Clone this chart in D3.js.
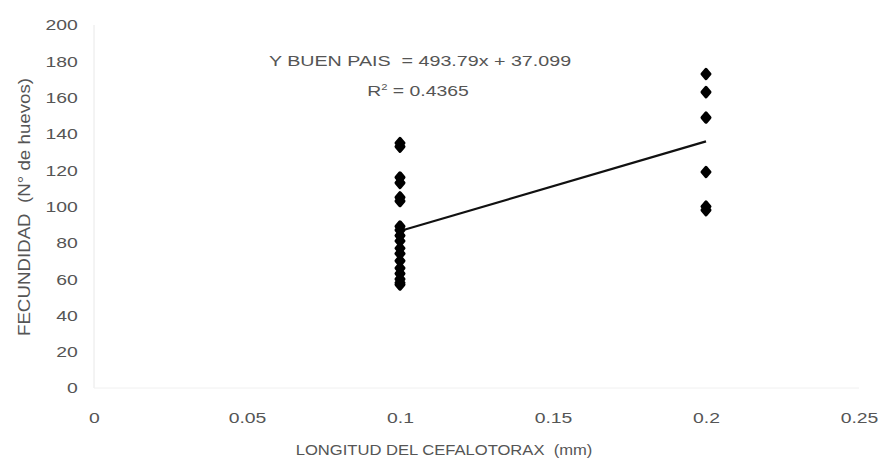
<!DOCTYPE html>
<html>
<head>
<meta charset="utf-8">
<script src="https://cdn.jsdelivr.net/npm/d3@7"></script>
<style>
  html, body { margin: 0; padding: 0; background: #fff; }
  svg { display: block; }
  text { font-family: "Liberation Sans", Arial, sans-serif; fill: #555; white-space: pre; }
</style>
</head>
<body>
<svg id="chart" width="882" height="462"></svg>
<script>
// Cephalothorax length groups and fecundity (egg counts)
const lengthsA = [0.1];
const eggsA = [135, 133, 116, 113, 105, 103, 89, 87, 84, 81, 77, 74, 70, 66, 63, 60, 58, 57];
const lengthsB = [0.2];
const eggsB = [173, 163, 149, 119, 100, 98];

// Linear fit reported for the Buen País population
const slope = 493.79;
const intercept = 37.099;
const rSquared = "0.4365";
const fitRange = [0.1, 0.2];

const xTicks = [0, 0.05, 0.1, 0.15, 0.2, 0.25];
const xTickLabels = ["0", "0.05", "0.1", "0.15", "0.2", "0.25"];
const yTicks = [0, 20, 40, 60, 80, 100, 120, 140, 160, 180, 200];

const xTitle = "LONGITUD DEL CEFALOTORAX  (mm)";
const yTitle = "FECUNDIDAD  (N° de huevos)";

const points = [
  ...eggsA.map(v => ({ x: lengthsA[0], y: v })),
  ...eggsB.map(v => ({ x: lengthsB[0], y: v }))
];

const svg = d3.select("#chart");

const x = d3.scaleLinear().domain([0, 0.25]).range([94, 859]);
const y = d3.scaleLinear().domain([0, 200]).range([388, 25]);

const stretch = 1.25;

// faint axis lines
svg.append("line")
  .attr("x1", x(0)).attr("x2", x(0)).attr("y1", y(200)).attr("y2", y(0))
  .attr("stroke", "#e8e8e8").attr("stroke-width", 1);
svg.append("line")
  .attr("x1", x(0)).attr("x2", x(0.25)).attr("y1", y(0)).attr("y2", y(0))
  .attr("stroke", "#f0f0f0").attr("stroke-width", 1);

// y axis tick labels
const gy = svg.append("g")
  .attr("transform", `translate(${x(0)},0)`)
  .call(d3.axisLeft(y).tickValues(yTicks).tickSize(0).tickPadding(13).tickFormat(d3.format("d")));
gy.select(".domain").remove();
gy.selectAll("text")
  .attr("font-size", 15.5)
  .attr("font-family", null)
  .attr("fill", "#5a5a5a")
  .attr("transform", `scale(${stretch},1)`);

// x axis tick labels
const gx = svg.append("g")
  .attr("transform", `translate(0,${y(0)})`)
  .call(d3.axisBottom(x).tickValues(xTicks).tickSize(0).tickPadding(24)
    .tickFormat((d, i) => xTickLabels[i]));
gx.select(".domain").remove();
gx.selectAll("text")
  .attr("font-size", 15.5)
  .attr("font-family", null)
  .attr("fill", "#5a5a5a")
  .attr("transform", `scale(${stretch},1)`);

// axis titles
svg.append("text")
  .attr("transform", `translate(444,455) scale(1.07,1)`)
  .attr("text-anchor", "middle")
  .attr("font-size", 15.5)
  .text(xTitle);

svg.append("text")
  .attr("transform", `translate(30,207) rotate(-90) scale(1.17,1)`)
  .attr("text-anchor", "middle")
  .attr("font-size", 16)
  .text(yTitle);

// trend line
const fitLine = d3.line().x(d => x(d)).y(d => y(slope * d + intercept));
svg.append("path")
  .datum(fitRange)
  .attr("d", fitLine)
  .attr("fill", "none")
  .attr("stroke", "#111")
  .attr("stroke-width", 2.2);

// markers
svg.append("g").selectAll("path")
  .data(points)
  .join("path")
  .attr("transform", d => `translate(${x(d.x)},${y(d.y)})`)
  .attr("d", "M0,-4.5L3.8,0L0,4.5L-3.8,0Z")
  .attr("fill", "#000")
  .attr("stroke", "#000")
  .attr("stroke-width", 3.4)
  .attr("stroke-linejoin", "round");

// equation annotation
svg.append("text")
  .attr("transform", `translate(420,66) scale(1.27,1)`)
  .attr("text-anchor", "middle")
  .attr("font-size", 15.5)
  .text(`Y BUEN PAIS  = ${slope}x + ${intercept}`);

const r2 = svg.append("text")
  .attr("transform", `translate(418,96) scale(${stretch},1)`)
  .attr("text-anchor", "middle")
  .attr("font-size", 15.5);
r2.append("tspan").text("R");
r2.append("tspan").attr("dy", -6).attr("font-size", 9).text("2");
r2.append("tspan").attr("dy", 6).text(` = ${rSquared}`);
</script>
</body>
</html>
